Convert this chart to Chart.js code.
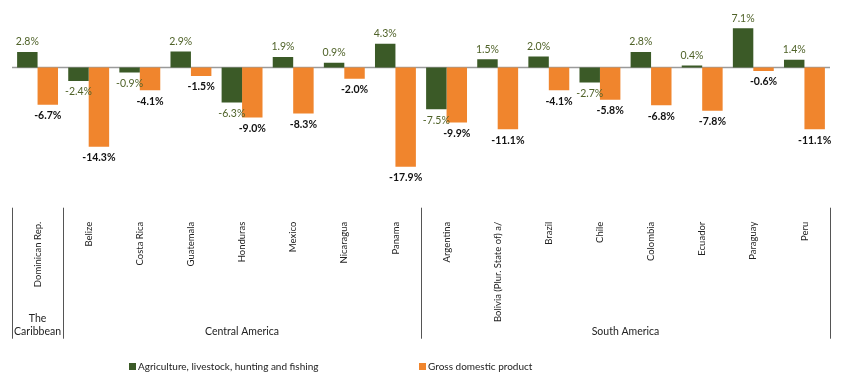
<!DOCTYPE html>
<html>
<head>
<meta charset="utf-8">
<script src="https://cdn.jsdelivr.net/npm/chart.js@4/dist/chart.umd.min.js"></script>
<style>
  body { margin: 0; background: #fff; }
</style>
</head>
<body>
<canvas id="chart" width="850" height="385"></canvas>
<script>
var categories = ['Dominican Rep.', 'Belize', 'Costa Rica', 'Guatemala', 'Honduras', 'Mexico',
    'Nicaragua', 'Panama', 'Argentina', 'Bolivia (Plur. State of) a/', 'Brazil', 'Chile',
    'Colombia', 'Ecuador', 'Paraguay', 'Peru'];
var agriculture = [2.8, -2.4, -0.9, 2.9, -6.3, 1.9, 0.9, 4.3, -7.5, 1.5, 2.0, -2.7, 2.8, 0.4, 7.1, 1.4];
var gdp = [-6.7, -14.3, -4.1, -1.5, -9.0, -8.3, -2.0, -17.9, -9.9, -11.1, -4.1, -5.8, -6.8, -7.8, -0.6, -11.1];
var groupNames = [['The', 'Caribbean'], ['Central America'], ['South America']];
var groupSizes = [1, 7, 8];

var green = '#3b5a27';
var orange = '#f0852d';
var fontFamily = 'Lato, "Open Sans", sans-serif';

var extras = {
    id: 'extras',
    beforeDatasetsDraw: function(chart) {
        var c = chart.ctx, area = chart.chartArea;
        var y0 = chart.scales.y.getPixelForValue(0);
        c.save();
        c.strokeStyle = '#9a9a9a';
        c.lineWidth = 1.5;
        c.beginPath();
        c.moveTo(area.left, y0);
        c.lineTo(area.right, y0);
        c.stroke();
        c.restore();
    },
    afterDraw: function(chart) {
        var c = chart.ctx, area = chart.chartArea;
        var xs = chart.scales.x;
        c.save();

        // value labels
        c.textAlign = 'center';
        c.textBaseline = 'middle';
        chart.data.datasets.forEach(function(ds, di) {
            var meta = chart.getDatasetMeta(di);
            c.font = (di === 0 ? '' : 'bold ') + '10.5px ' + fontFamily;
            c.fillStyle = di === 0 ? '#4f6228' : '#111';
            meta.data.forEach(function(bar, i) {
                var v = ds.data[i];
                var y = v >= 0 ? bar.y - 10 : bar.y + 11;
                c.fillText(v.toFixed(1) + '%', bar.x, y);
            });
        });

        // group separators and names
        var step = xs.width / categories.length;
        var top = area.bottom + 1, bottom = top + 131;
        c.strokeStyle = '#555';
        c.lineWidth = 1;
        c.fillStyle = '#222';
        c.font = '10.5px ' + fontFamily;
        var start = 0;
        var edges = [xs.getPixelForValue(0) - step / 2];
        groupSizes.forEach(function(n, g) {
            var left = xs.getPixelForValue(start) - step / 2;
            var right = xs.getPixelForValue(start + n - 1) + step / 2;
            edges.push(right);
            var lines = groupNames[g];
            var cx = (left + right) / 2;
            for (var k = 0; k < lines.length; k++) {
                c.fillText(lines[k], cx, bottom - 7 - (lines.length - 1 - k) * 13);
            }
            start += n;
        });
        edges.forEach(function(x) {
            c.beginPath();
            c.moveTo(Math.round(x) + 0.5, top);
            c.lineTo(Math.round(x) + 0.5, bottom);
            c.stroke();
        });

        // legend
        var items = [[129, 0], [419, 1]];
        c.textAlign = 'left';
        c.font = '10px ' + fontFamily;
        items.forEach(function(it) {
            var ds = chart.data.datasets[it[1]];
            c.fillStyle = ds.backgroundColor;
            c.fillRect(it[0], 363, 7, 7);
            c.fillStyle = '#222';
            c.fillText(ds.label, it[0] + 9, 366.5);
        });
        c.restore();
    }
};

new Chart(document.getElementById('chart'), {
    type: 'bar',
    data: {
        labels: categories,
        datasets: [{
            label: 'Agriculture, livestock, hunting and fishing',
            data: agriculture,
            backgroundColor: green
        }, {
            label: 'Gross domestic product',
            data: gdp,
            backgroundColor: orange
        }]
    },
    options: {
        responsive: false,
        animation: false,
        categoryPercentage: 0.8,
        barPercentage: 1.0,
        layout: {
            padding: { left: 12, right: 20, top: 5, bottom: 56 }
        },
        scales: {
            x: {
                grid: { display: false },
                border: { display: false },
                ticks: {
                    minRotation: 90,
                    maxRotation: 90,
                    autoSkip: false,
                    padding: 7,
                    color: '#222',
                    font: { family: fontFamily, size: 9.5 }
                }
            },
            y: {
                min: -25.1,
                max: 11.3,
                grid: { display: false, drawTicks: false },
                border: { display: false },
                ticks: { display: false }
            }
        },
        plugins: {
            legend: { display: false },
            tooltip: { enabled: false }
        }
    },
    plugins: [extras]
});
</script>
</body>
</html>
